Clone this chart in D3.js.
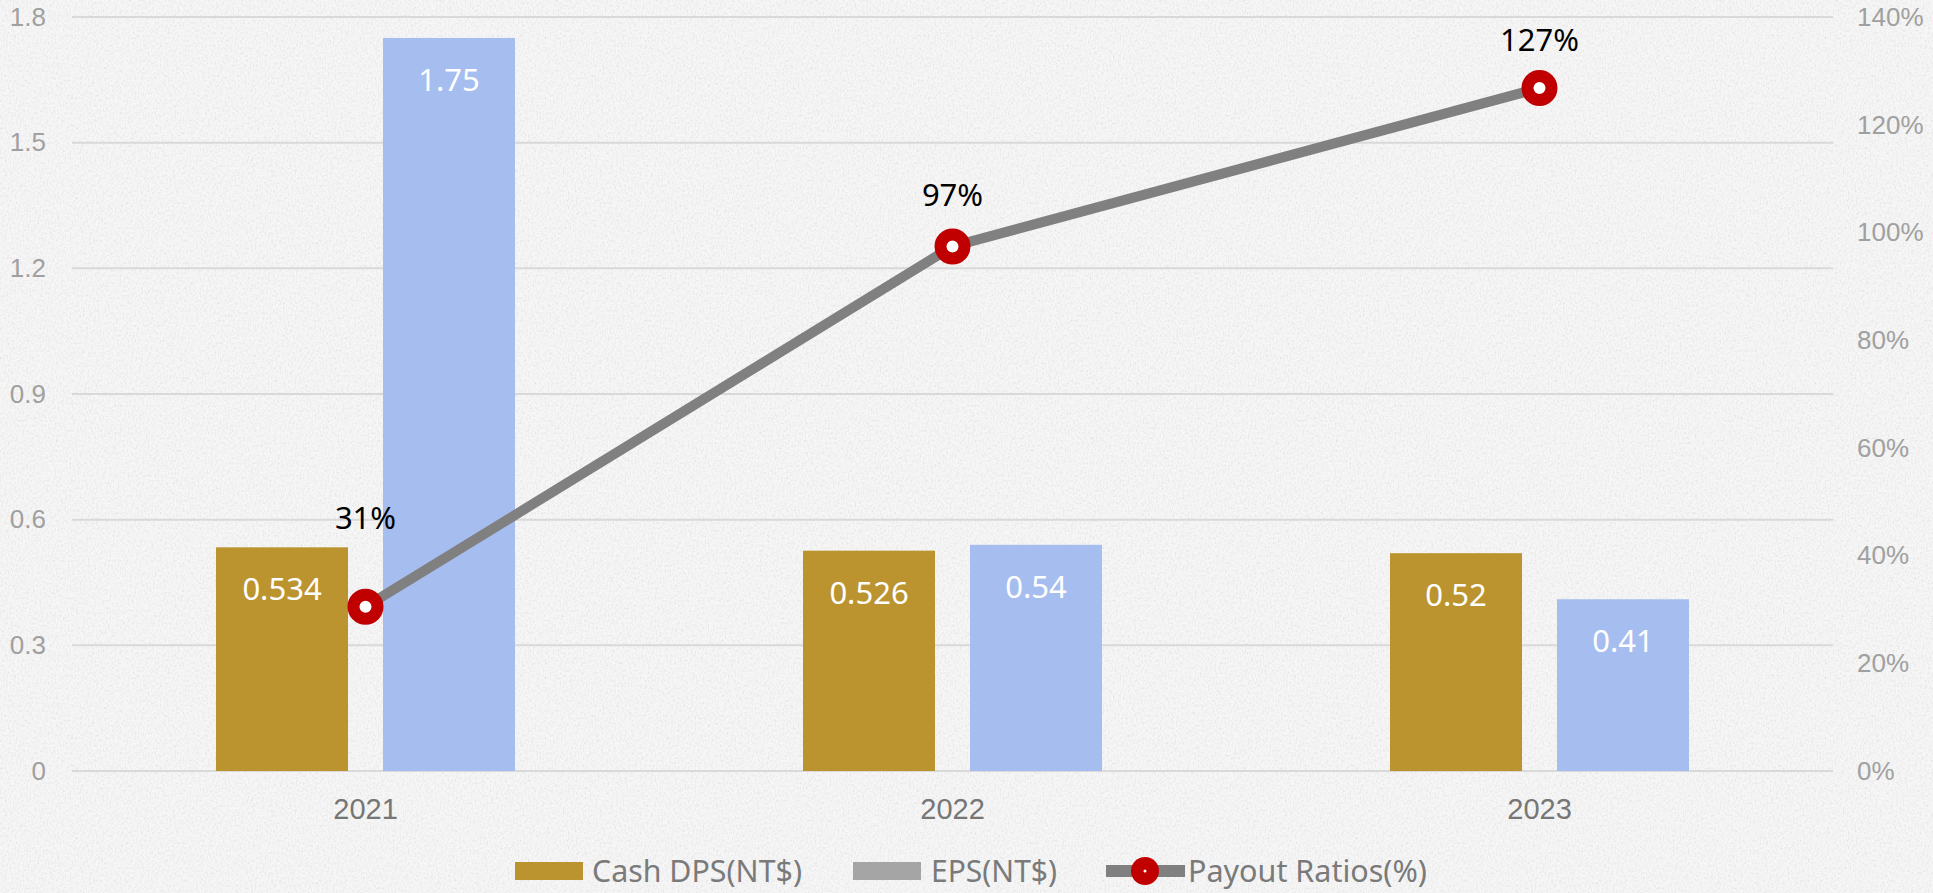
<!DOCTYPE html>
<html>
<head>
<meta charset="utf-8">
<script src="https://cdn.jsdelivr.net/npm/d3@7/dist/d3.min.js"></script>
<style>
  html, body { margin: 0; padding: 0; background: #f2f2f2; }
  svg { display: block; }
</style>
</head>
<body>
<div id="chart"></div>
<script>
'use strict';

// data
var years = ['2021', '2022', '2023'];
var cashDps = [0.534, 0.526, 0.52];
var eps = [1.75, 0.54, 0.41];
var payout = [0.305, 0.974, 1.268];
var payoutLabels = ['31%', '97%', '127%'];
var leftTicks = [0, 0.3, 0.6, 0.9, 1.2, 1.5, 1.8];
var rightTicks = [0, 0.2, 0.4, 0.6, 0.8, 1.0, 1.2, 1.4];
var legendNames = ['Cash DPS(NT$)', 'EPS(NT$)', 'Payout Ratios(%)'];

var W = 1933, H = 893
  , margin = { top: 17, right: 100, bottom: 122, left: 72 }
  , colors = { cash: '#bb942f', eps: '#a6bdef', line: '#808080', dot: '#c00000' }
;

var svg = d3.select('#chart').append('svg')
    .attr('width', W)
    .attr('height', H);

// paper-ish background
var defs = svg.append('defs');
var f = defs.append('filter').attr('id', 'paper')
    .attr('x', 0).attr('y', 0).attr('width', '100%').attr('height', '100%');
f.append('feTurbulence')
    .attr('type', 'fractalNoise')
    .attr('baseFrequency', '0.6 0.4')
    .attr('numOctaves', 3)
    .attr('seed', 4)
    .attr('result', 'n');
f.append('feColorMatrix')
    .attr('in', 'n')
    .attr('type', 'matrix')
    .attr('values', '0 0 0 0 0.6  0 0 0 0 0.6  0 0 0 0 0.6  0 0 0 -2.2 1.25');

svg.append('rect').attr('width', W).attr('height', H).attr('fill', '#f6f6f6');
svg.append('rect').attr('width', W).attr('height', H)
    .attr('filter', 'url(#paper)').attr('opacity', 0.4);

var x0 = margin.left, x1 = W - margin.right
  , yTop = margin.top, yBot = H - margin.bottom;

var x = d3.scaleBand().domain(years).range([x0, x1]);
var bw = 132, gap = 35;
var yL = d3.scaleLinear().domain([0, 1.8]).range([yBot, yTop]);
var yR = d3.scaleLinear().domain([0, 1.4]).range([yBot, yTop]);

// gridlines
svg.append('g').selectAll('line')
    .data(leftTicks)
    .enter().append('line')
    .attr('x1', x0).attr('x2', x1)
    .attr('y1', function (d) { return yL(d); })
    .attr('y2', function (d) { return yL(d); })
    .attr('stroke', '#d9d9d9')
    .attr('stroke-width', 2);

// left axis
var leftAxis = svg.append('g')
    .attr('transform', 'translate(' + (x0 - 26) + ',0)')
    .call(d3.axisLeft(yL).tickValues(leftTicks).tickSize(0).tickPadding(0)
      .tickFormat(function (d) { return d === 0 ? '0' : d3.format('.1f')(d); }));
leftAxis.select('.domain').remove();
leftAxis.selectAll('text')
    .attr('fill', '#a0a0a0')
    .style('font-family', 'Arial, "Liberation Sans", sans-serif')
    .style('font-size', '26px');

// right axis
var rightAxis = svg.append('g')
    .attr('transform', 'translate(' + (x1 + 24) + ',0)')
    .call(d3.axisRight(yR).tickValues(rightTicks).tickSize(0).tickPadding(0)
      .tickFormat(d3.format('.0%')));
rightAxis.select('.domain').remove();
rightAxis.selectAll('text')
    .attr('fill', '#a0a0a0')
    .style('font-family', 'Arial, "Liberation Sans", sans-serif')
    .style('font-size', '26px');

// bottom axis
var bottomAxis = svg.append('g')
    .attr('transform', 'translate(0,' + yBot + ')')
    .call(d3.axisBottom(x).tickSize(0).tickPadding(27));
bottomAxis.select('.domain').remove();
bottomAxis.selectAll('text')
    .attr('fill', '#767676')
    .style('font-family', 'Arial, "Liberation Sans", sans-serif')
    .style('font-size', '29px');

// bars
var series = [
  { key: 'cash', values: cashDps, dx: -(gap / 2 + bw), color: colors.cash },
  { key: 'eps', values: eps, dx: gap / 2, color: colors.eps }
];

series.forEach(function (s) {
  var g = svg.append('g').attr('class', 'bars-' + s.key);
  g.selectAll('rect')
      .data(s.values)
      .enter().append('rect')
      .attr('x', function (d, i) { return x(years[i]) + x.bandwidth() / 2 + s.dx; })
      .attr('y', function (d) { return yL(d); })
      .attr('width', bw)
      .attr('height', function (d) { return yBot - yL(d); })
      .attr('fill', s.color);
  g.selectAll('text')
      .data(s.values)
      .enter().append('text')
      .attr('x', function (d, i) { return x(years[i]) + x.bandwidth() / 2 + s.dx + bw / 2; })
      .attr('y', function (d) { return yL(d) + 53; })
      .attr('text-anchor', 'middle')
      .attr('fill', '#fff')
      .style('font-family', '"Noto Sans", sans-serif')
      .style('font-size', '31px')
      .text(function (d) { return String(d); });
});

// payout line
var cx = function (d, i) { return x(years[i]) + x.bandwidth() / 2; };
var line = d3.line()
    .x(function (d, i) { return cx(d, i); })
    .y(function (d) { return yR(d); });

svg.append('path')
    .datum(payout)
    .attr('d', line)
    .attr('fill', 'none')
    .attr('stroke', colors.line)
    .attr('stroke-width', 10);

svg.append('g').selectAll('circle')
    .data(payout)
    .enter().append('circle')
    .attr('cx', cx)
    .attr('cy', function (d) { return yR(d); })
    .attr('r', 12)
    .attr('fill', '#fff')
    .attr('stroke', colors.dot)
    .attr('stroke-width', 12);

// the first label was dragged higher in the original
var labelLift = [78, 40, 37];
svg.append('g').selectAll('text')
    .data(payout)
    .enter().append('text')
    .attr('x', cx)
    .attr('y', function (d, i) { return yR(d) - labelLift[i]; })
    .attr('text-anchor', 'middle')
    .attr('fill', '#000')
    .style('font-family', '"Noto Sans", sans-serif')
    .style('font-size', '31px')
    .text(function (d, i) { return payoutLabels[i]; });

// legend
var legend = svg.append('g').attr('class', 'legend')
    .style('font-family', '"Noto Sans", sans-serif')
    .style('font-size', '30px')
    .attr('fill', '#7a7a7a');

var lgY = 871;
legend.append('rect').attr('x', 515).attr('y', lgY - 9).attr('width', 68).attr('height', 18).attr('fill', colors.cash);
legend.append('text').attr('x', 592).attr('y', lgY + 11)
    .attr('textLength', 210).attr('lengthAdjust', 'spacingAndGlyphs').text(legendNames[0]);

legend.append('rect').attr('x', 853).attr('y', lgY - 9).attr('width', 68).attr('height', 18).attr('fill', '#a5a5a5');
legend.append('text').attr('x', 931).attr('y', lgY + 11)
    .attr('textLength', 126).attr('lengthAdjust', 'spacingAndGlyphs').text(legendNames[1]);

legend.append('rect').attr('x', 1106).attr('y', lgY - 6).attr('width', 79).attr('height', 12).attr('fill', colors.line);
legend.append('circle').attr('cx', 1145).attr('cy', lgY).attr('r', 14).attr('fill', colors.dot);
legend.append('circle').attr('cx', 1145).attr('cy', lgY).attr('r', 1.5).attr('fill', '#fff');
legend.append('text').attr('x', 1188).attr('y', lgY + 11)
    .attr('textLength', 239).attr('lengthAdjust', 'spacingAndGlyphs').text(legendNames[2]);
</script>
</body>
</html>
